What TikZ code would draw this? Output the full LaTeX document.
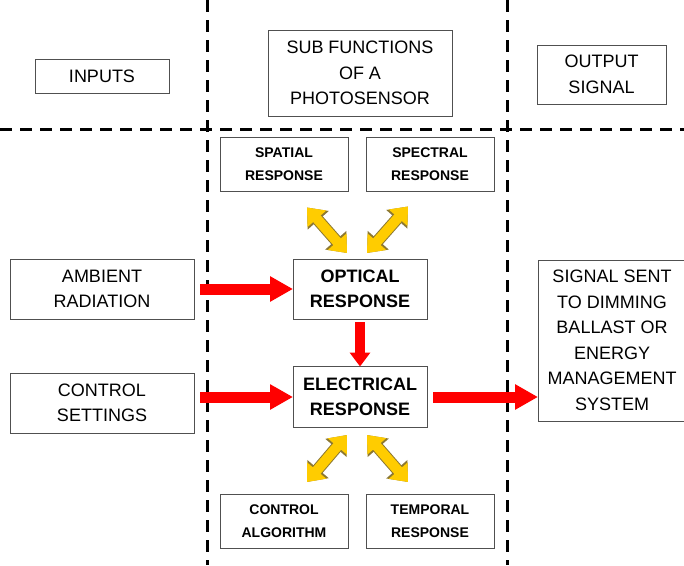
\documentclass[tikz,border=0pt]{standalone}
\usepackage{fontspec}
\setmainfont{Liberation Sans}
\usetikzlibrary{arrows.meta, positioning, calc}

\definecolor{gold}{RGB}{255,204,0}
\definecolor{goldrim}{RGB}{140,120,50}
\definecolor{boxline}{RGB}{80,80,80}

\begin{document}
\begin{tikzpicture}[
    x=1pt, y=-1pt,
    box/.style={rectangle, draw=boxline, line width=0.8pt, fill=white, align=center, inner sep=0pt, outer sep=0pt, font=\fontsize{18}{25.5}\selectfont},
    func/.style={box, font=\bfseries\fontsize{18}{25}\selectfont, minimum width=134pt},
    sub/.style={box, font=\bfseries\fontsize{14}{23}\selectfont, minimum width=128pt, minimum height=54pt},
    divider/.style={line width=3pt, dash pattern=on 12pt off 8pt},
    flow/.style={draw=red, line width=11pt, -{Triangle[length=23pt,width=24pt]}},
    link/.style={draw=gold, line width=10pt, {Triangle[length=15pt,width=24pt]}-{Triangle[length=15pt,width=24pt]}},
    linkrim/.style={draw=goldrim, line width=12pt, {Triangle[length=17pt,width=27pt]}-{Triangle[length=17pt,width=27pt]}}
  ]
  \useasboundingbox (0,0) rectangle (684,565);
  \clip (0,0) rectangle (684,565);

  \draw[divider] (207,0) -- (207,565);
  \draw[divider] (507,0) -- (507,565);
  \draw[divider] (0,129) -- (684,129);

  \node[box, minimum width=134pt, minimum height=34pt] (inputs) at (102,76) {INPUTS};
  \node[box, minimum width=184pt, minimum height=86pt] (subfn) at (360,73) {SUB FUNCTIONS\\OF A\\PHOTOSENSOR};
  \node[box, minimum width=129pt, minimum height=59pt] (outsig) at (601.5,74.5) {OUTPUT\\SIGNAL};

  \node[sub] (spatial) at (284,164.5) {SPATIAL\\RESPONSE};
  \node[sub, right=18pt of spatial] (spectral) {SPECTRAL\\RESPONSE};

  \node[box, minimum width=184pt, minimum height=60pt] (ambient) at (102,289) {AMBIENT\\RADIATION};
  \node[box, minimum width=184pt, minimum height=60pt, below=54pt of ambient] (settings) {CONTROL\\SETTINGS};

  \node[func, minimum height=60pt] (optical) at (360,289) {OPTICAL\\RESPONSE};
  \node[func, minimum height=61pt, below=47.5pt of optical] (electrical) {ELECTRICAL\\RESPONSE};

  \node[box, minimum width=148pt, minimum height=161pt] (signal) at (612,340.5) {SIGNAL SENT\\TO DIMMING\\BALLAST OR\\ENERGY\\MANAGEMENT\\SYSTEM};

  \node[sub] (algorithm) at (284,521) {CONTROL\\ALGORITHM};
  \node[sub, right=18pt of algorithm] (temporal) {TEMPORAL\\RESPONSE};

  \draw[flow, shorten <=6pt] (ambient) -- (optical);
  \draw[flow, shorten <=6pt] (settings.east |- electrical) -- (electrical);
  \draw[flow, shorten <=6pt] (electrical) -- (electrical -| signal.west);
  \draw[flow, line width=10pt, -{Triangle[length=14pt,width=20pt]}, shorten <=3pt] (optical) -- (electrical);

  \coordinate (spa-end) at ($(spatial.south)+(23,16)$);
  \coordinate (spe-end) at ($(spectral.south)+(-22,15)$);
  \coordinate (opt-l) at ($(optical.north)+(-13,-6)$);
  \coordinate (opt-r) at ($(optical.north)+(7,-6)$);
  \coordinate (ele-l) at ($(electrical.south)+(-13,7.5)$);
  \coordinate (ele-r) at ($(electrical.south)+(7,7.5)$);
  \coordinate (alg-end) at ($(algorithm.north)+(23,-12)$);
  \coordinate (tem-end) at ($(temporal.north)+(-22,-12)$);

  \foreach \a/\b in {spa-end/opt-l, spe-end/opt-r, ele-l/alg-end, ele-r/tem-end} {
    \draw[linkrim] (\a) -- (\b);
    \draw[link] (\a) -- (\b);
  }
\end{tikzpicture}
\end{document}
